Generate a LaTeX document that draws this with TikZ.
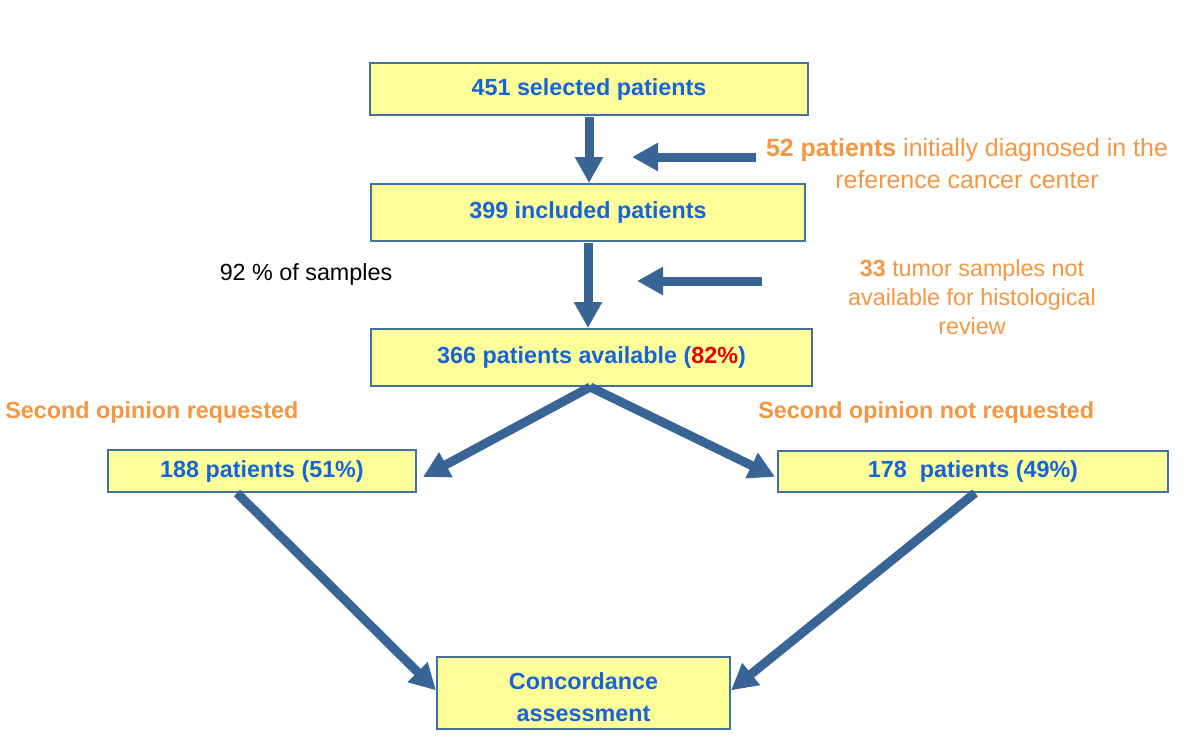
\documentclass[tikz,border=0pt]{standalone}
\usepackage{fontspec}
\setmainfont{Liberation Sans}
\usetikzlibrary{arrows.meta}
\definecolor{boxfill}{RGB}{255,255,153}
\definecolor{boxline}{RGB}{65,113,156}
\definecolor{arrcol}{RGB}{56,100,150}
\definecolor{tblue}{RGB}{22,100,218}
\definecolor{torange}{RGB}{245,150,65}
\definecolor{tred}{RGB}{230,0,0}
\begin{document}
\begin{tikzpicture}[x=0.75pt,y=-0.75pt,
  box/.style={draw=boxline, fill=boxfill, line width=1.5pt, inner sep=0pt,
    font=\fontsize{17.5}{23}\selectfont\bfseries, text=tblue, align=center},
  arr/.style={draw=arrcol, line width=6.75pt,
    -{Triangle[width=20pt,length=19.5pt]}},
  note/.style={font=\fontsize{17.5}{23}\selectfont, text=torange, align=center, inner sep=0pt},
  head/.style={font=\fontsize{17.5}{21}\selectfont\bfseries, text=torange, inner sep=0pt},
  plain/.style={font=\fontsize{17.5}{21}\selectfont, text=black, inner sep=0pt}]
\useasboundingbox (0,0) rectangle (1200,750);
\fill[white] (0,0) rectangle (1200,750);

\node[box, minimum width=328.5pt, minimum height=39pt] (b1) at (589,89) {451 selected patients};
\node[box, minimum width=325.5pt, minimum height=42.75pt] (b2) at (588,212.5) {399 included patients};
\node[box, minimum width=330.75pt, minimum height=42.75pt] (b3) at (591.5,357.5) {366 patients available (\textcolor{tred}{82\%})};
\node[box, minimum width=231pt, minimum height=31.5pt] (b4) at (262,471) {188 patients (51\%)};
\node[box, minimum width=292.5pt, minimum height=30.75pt] (b5) at (973,471.5) {178\ \ patients (49\%)};
\node[box, minimum width=219.75pt, minimum height=54pt] (b6) at (583.5,693) {};
\node[box, draw=none, fill=none, font=\fontsize{17.5}{23.5}\selectfont\bfseries] (b6t) at (583.5,697) {Concordance\\assessment};

\node[plain] (t92) at (306,274) {92 \% of samples};
\node[note, font=\fontsize{18.7}{24}\selectfont] (t52) at (967,164) {\textbf{52 patients} initially diagnosed in the\\reference cancer center};
\node[note, font=\fontsize{17.5}{22}\selectfont] (t33) at (972,297) {\textbf{33} tumor samples not\\available for histological\\review};
\node[head, anchor=west] (s1) at (5,412) {Second opinion requested};
\node[head, anchor=west] (s2) at (758,412) {Second opinion not requested};

\coordinate (h1a) at (756,157);
\coordinate (h1b) at (632,157);
\coordinate (h2a) at (762,281);
\coordinate (h2b) at (637,281);

\draw[arr] ([yshift=-1pt]b1.south) -- (b1.south |- b2.north);
\draw[arr] ([yshift=-1pt]b2.south) -- (b2.south |- b3.north);
\draw[arr] (h1a) -- (h1b);
\draw[arr] (h2a) -- (h2b);
\draw[arr] ([xshift=-1pt]b3.south) -- ([xshift=4.5pt,yshift=-4.5pt]b4.east);
\draw[arr] ([xshift=-1pt]b3.south) -- ([xshift=-1.5pt,yshift=-4pt]b5.west);
\draw[arr] ([xshift=-18.75pt]b4.south) -- ([yshift=2pt]b6.west);
\draw[arr] ([xshift=1.5pt]b5.south) -- ([yshift=2pt]b6.east);
\end{tikzpicture}
\end{document}
